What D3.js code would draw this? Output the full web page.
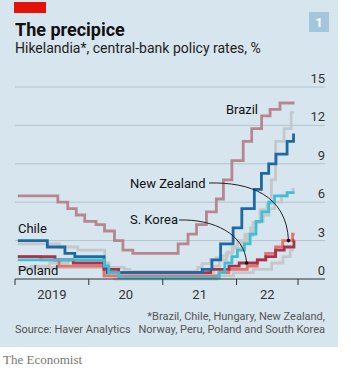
<!DOCTYPE html>
<html>
<head>
<meta charset="utf-8">
<script src="https://cdn.jsdelivr.net/npm/d3@7"></script>
<style>
  body { margin: 0; background: #fff; }
  svg { display: block; font-family: Roboto, "Open Sans", sans-serif; }
</style>
</head>
<body>
<svg id="chart" width="351" height="377"></svg>
<script>
// Leitzinsen, Stufen: [Datum, Satz in %]
const brazil = [["2019-01-15",6.5],["2019-08-01",6.0],["2019-09-19",5.5],["2019-10-31",5.0],["2019-12-12",4.5],["2020-02-06",4.25],["2020-03-19",3.75],["2020-05-07",3.0],["2020-06-18",2.25],["2020-08-06",2.0],["2021-03-18",2.75],["2021-05-06",3.5],["2021-06-17",4.25],["2021-08-05",5.25],["2021-09-23",6.25],["2021-10-28",7.75],["2021-12-09",9.25],["2022-02-03",10.75],["2022-03-17",11.75],["2022-05-05",12.75],["2022-06-16",13.25],["2022-08-04",13.75],["2022-10-15",13.75]];
const chile = [["2019-01-15",3.0],["2019-06-10",2.5],["2019-09-05",2.0],["2019-10-24",1.75],["2020-03-17",1.0],["2020-04-01",0.5],["2021-07-15",0.75],["2021-09-01",1.5],["2021-10-14",2.75],["2021-12-15",4.0],["2022-01-27",5.5],["2022-03-30",7.0],["2022-05-04",8.25],["2022-06-09",9.0],["2022-07-15",9.75],["2022-09-08",10.75],["2022-10-10",11.25],["2022-10-17",11.25]];
const hungary = [["2019-01-15",0.9],["2020-06-24",0.75],["2020-07-22",0.6],["2021-06-23",0.9],["2021-07-14",1.2],["2021-08-25",1.5],["2021-09-22",1.65],["2021-10-20",1.8],["2021-11-17",2.1],["2021-12-15",2.4],["2022-01-26",2.9],["2022-02-23",3.4],["2022-03-23",4.4],["2022-04-27",5.4],["2022-05-31",5.9],["2022-06-22",7.75],["2022-07-13",10.75],["2022-08-24",11.75],["2022-09-28",13.0],["2022-10-12",13.0]];
const peru = [["2019-01-15",2.75],["2019-08-09",2.5],["2019-11-08",2.25],["2020-03-20",1.25],["2020-04-10",0.25],["2021-08-13",0.5],["2021-09-10",1.0],["2021-10-08",1.5],["2021-11-12",2.0],["2021-12-10",2.5],["2022-01-07",3.0],["2022-02-11",3.5],["2022-03-11",4.0],["2022-04-08",4.5],["2022-05-13",5.0],["2022-06-10",5.5],["2022-07-08",6.0],["2022-08-12",6.5],["2022-09-09",6.75],["2022-10-07",7.0],["2022-10-15",7.0]];
const norway = [["2019-01-15",0.75],["2019-03-22",1.0],["2019-06-21",1.25],["2019-09-20",1.5],["2020-03-13",1.0],["2020-03-20",0.25],["2020-05-08",0.0],["2021-09-24",0.25],["2021-12-17",0.5],["2022-03-25",0.75],["2022-06-24",1.25],["2022-08-19",1.75],["2022-09-23",2.25],["2022-10-12",2.25]];
const poland = [["2019-01-15",1.5],["2020-03-18",1.0],["2020-04-09",0.5],["2020-05-29",0.1],["2021-10-07",0.5],["2021-11-04",1.25],["2021-12-09",1.75],["2022-01-05",2.25],["2022-02-09",2.75],["2022-03-09",3.5],["2022-04-07",4.5],["2022-05-06",5.25],["2022-06-09",6.0],["2022-07-08",6.5],["2022-09-08",6.75],["2022-10-15",6.75]];
const newZealand = [["2019-01-15",1.75],["2019-05-08",1.5],["2019-08-07",1.0],["2020-03-16",0.25],["2021-10-06",0.5],["2021-11-24",0.75],["2022-02-23",1.0],["2022-04-13",1.5],["2022-05-25",2.0],["2022-07-13",2.5],["2022-08-17",3.0],["2022-10-05",3.5],["2022-10-15",3.5]];
const southKorea = [["2019-01-15",1.75],["2019-07-18",1.5],["2019-10-16",1.25],["2020-03-16",0.75],["2020-05-28",0.5],["2021-08-26",0.75],["2021-11-25",1.0],["2022-01-14",1.25],["2022-04-14",1.5],["2022-05-26",1.75],["2022-07-13",2.25],["2022-08-25",2.5],["2022-10-12",3.0],["2022-10-15",3.0]];

const yTicks = [0, 3, 6, 9, 12, 15];
const xTicks = ["2019-01-01", "2020-01-01", "2021-01-01", "2022-01-01", "2022-11-01"];
const yearLabels = ["2019", "20", "21", "22"];

const parse = d3.timeParse("%Y-%m-%d");
const svg = d3.select("#chart");

// Hintergrund
svg.append("rect").attr("width", 338).attr("height", 347).attr("fill", "#d7e5ee");
svg.append("rect").attr("x", 14).attr("y", 2).attr("width", 32).attr("height", 11).attr("fill", "#e3120b");

// Titel
svg.append("text").attr("x", 15).attr("y", 36)
    .style("font-size", "18px").style("font-weight", "700").style("fill", "#111")
    .text("The precipice");
svg.append("text").attr("x", 15).attr("y", 53)
    .style("font-size", "14px").style("fill", "#222")
    .text("Hikelandia*, central-bank policy rates, %");

// Kasten "1"
svg.append("rect").attr("x", 309).attr("y", 12).attr("width", 20).attr("height", 20).attr("fill", "#a3c6dc");
svg.append("text").attr("x", 319).attr("y", 27).attr("text-anchor", "middle")
    .style("font-size", "13px").style("font-weight", "700").style("fill", "#fff").text("1");

// Skalen
const x = d3.scaleTime()
    .domain([parse("2019-01-01"), parse("2022-11-01")])
    .range([15, 298]);
const y = d3.scaleLinear().domain([0, 15]).range([279, 87]);

// Gitter
const grid = svg.append("g");
grid.selectAll("line")
    .data(yTicks.filter(d => d > 0))
    .enter().append("line")
    .attr("x1", 15).attr("x2", 325)
    .attr("y1", d => y(d)).attr("y2", d => y(d))
    .style("stroke", "#b3c4cf").style("stroke-width", 1);
grid.selectAll("text")
    .data(yTicks)
    .enter().append("text")
    .attr("x", 325).attr("y", d => y(d) - 4)
    .attr("text-anchor", "end")
    .style("font-size", "13px").style("fill", "#333")
    .text(d => d);

// Linien
const line = d3.line()
    .curve(d3.curveStepAfter)
    .x(d => x(parse(d[0])))
    .y(d => y(d[1]));

const series = [
    { data: hungary, color: "#c4c8cb" },
    { data: peru, color: "#c4c8cb" },
    { data: norway, color: "#c4c8cb" },
    { data: brazil, color: "#b6878f" },
    { data: newZealand, color: "#ea6f6d" },
    { data: southKorea, color: "#a6354a" },
    { data: chile, color: "#1d6aa2" },
    { data: poland, color: "#3fbfd6" }
];

svg.append("g").selectAll("path")
    .data(series)
    .enter().append("path")
    .attr("d", d => line(d.data))
    .style("fill", "none")
    .style("stroke", d => d.color)
    .style("stroke-width", 2.8)
    .style("stroke-linejoin", "miter");

// x-Achse
svg.append("line")
    .attr("x1", 15).attr("x2", 325).attr("y1", 279).attr("y2", 279)
    .style("stroke", "#333").style("stroke-width", 1);
svg.append("g").selectAll("line")
    .data(xTicks)
    .enter().append("line")
    .attr("x1", d => x(parse(d))).attr("x2", d => x(parse(d)))
    .attr("y1", 279).attr("y2", 285)
    .style("stroke", "#333").style("stroke-width", 1);
svg.append("g").selectAll("text")
    .data(yearLabels)
    .enter().append("text")
    .attr("x", (d, i) => (x(parse(xTicks[i])) + x(parse(xTicks[i + 1]))) / 2)
    .attr("y", 299)
    .attr("text-anchor", "middle")
    .style("font-size", "13px").style("fill", "#333")
    .text(d => d);

// Beschriftungen
const labels = [
    { text: "Brazil", x: 258, y: 114, anchor: "end" },
    { text: "Chile", x: 18, y: 233, anchor: "start" },
    { text: "Poland", x: 18, y: 275, anchor: "start" },
    { text: "New Zealand", x: 130, y: 188, anchor: "start" },
    { text: "S. Korea", x: 130, y: 224, anchor: "start" }
];
svg.append("g").selectAll("text")
    .data(labels)
    .enter().append("text")
    .attr("x", d => d.x).attr("y", d => d.y)
    .attr("text-anchor", d => d.anchor)
    .style("font-size", "13px").style("fill", "#111")
    .text(d => d.text);

// Pfeile
const nzX = x(parse("2022-09-15")), nzY = y(3.0);
const krX = x(parse("2022-02-20")), krY = y(1.25);
const ann = svg.append("g");
ann.append("path")
    .attr("d", `M209,183 C250,182 ${nzX - 2},195 ${nzX},${nzY}`)
    .style("fill", "none").style("stroke", "#222").style("stroke-width", 1);
ann.append("path")
    .attr("d", `M179,220 C214,219 ${krX - 2},234 ${krX},${krY}`)
    .style("fill", "none").style("stroke", "#222").style("stroke-width", 1);
ann.append("circle").attr("cx", nzX).attr("cy", nzY).attr("r", 1.8).attr("fill", "#111");
ann.append("circle").attr("cx", krX).attr("cy", krY).attr("r", 1.8).attr("fill", "#111");

// Fusszeile
svg.append("text").attr("x", 15).attr("y", 333)
    .style("font-size", "11px").style("fill", "#555")
    .text("Source: Haver Analytics");
svg.append("text").attr("x", 325).attr("y", 320)
    .attr("text-anchor", "end")
    .style("font-size", "11px").style("fill", "#555")
    .text("*Brazil, Chile, Hungary, New Zealand,");
svg.append("text").attr("x", 325).attr("y", 333)
    .attr("text-anchor", "end")
    .style("font-size", "11px").style("fill", "#555")
    .text("Norway, Peru, Poland and South Korea");
svg.append("text").attr("x", 3).attr("y", 364)
    .style("font-family", "'Liberation Serif', serif")
    .style("font-size", "13px").style("fill", "#777")
    .text("The Economist");
</script>
</body>
</html>
